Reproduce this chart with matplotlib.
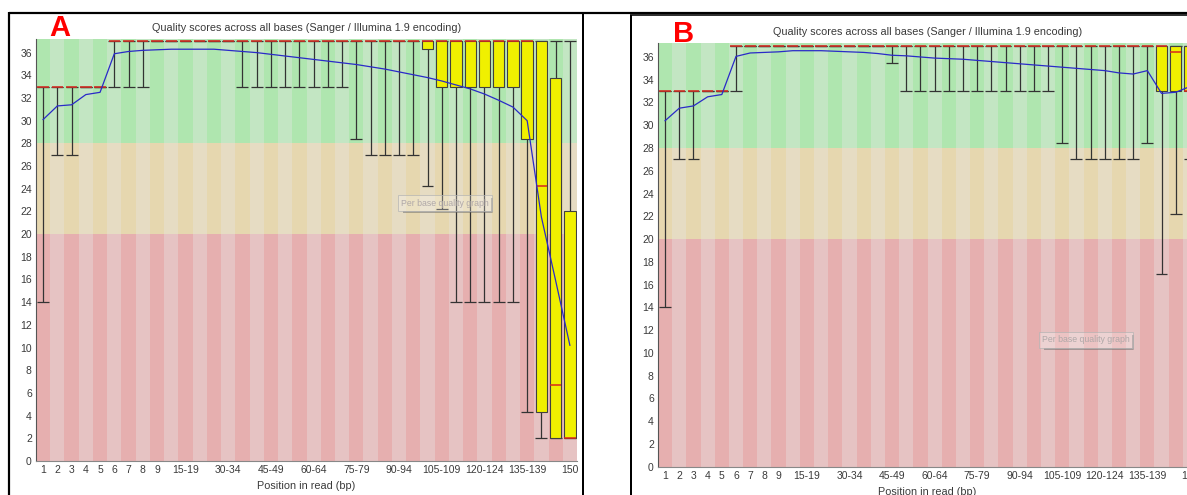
import matplotlib
matplotlib.use("Agg")
import matplotlib.pyplot as plt
import numpy as np
from matplotlib.lines import Line2D

plt.rcParams['font.family'] = ['Liberation Sans', 'DejaVu Sans']

W, H = 1187, 495

# position groups along the read
positions = [str(i) for i in range(1, 10)] + \
    ['%d-%d' % (s, s + 4) for s in range(10, 150, 5)] + ['150']
shown_labels = ['1', '2', '3', '4', '5', '6', '7', '8', '9', '15-19', '30-34',
                '45-49', '60-64', '75-79', '90-94', '105-109', '120-124',
                '135-139', '150']

# sample A
median_a = [33] * 5 + [37] * 30 + [24.2, 6.7, 2]
q1_a = [33] * 5 + [37] * 22 + [36.3] + [33] * 6 + [28.4, 4.3, 2, 2]
q3_a = [33] * 5 + [37] * 31 + [33.8, 22]
low_a = [14, 27, 27, 33, 33, 33, 33, 33] + [37] * 6 + [33] * 8 + [28.4] + \
    [27] * 4 + [24.2, 22.2] + [14] * 5 + [4.3, 2, 2, 2]
high_a = [33] * 5 + [37] * 33
mean_a = [30.1, 31.3, 31.4, 32.3, 32.5, 35.9, 36.1, 36.2, 36.25, 36.3, 36.3,
          36.3, 36.3, 36.2, 36.1, 36.0, 35.85, 35.7, 35.55, 35.4, 35.25, 35.1,
          34.95, 34.75, 34.55, 34.3, 34.05, 33.8, 33.5, 33.15, 32.8, 32.35,
          31.8, 31.2, 30.0, 21.5, 15.9, 10.2]

# sample B
median_b = [33] * 5 + [37] * 31 + [36.4, 33]
q1_b = [33] * 5 + [37] * 30 + [33, 33, 33]
q3_b = [33] * 5 + [37] * 33
low_b = [14, 27, 27, 33, 33, 33] + [37] * 10 + [35.5] + [33] * 11 + [28.4] + \
    [27] * 5 + [28.4, 16.9, 22.2, 27]
high_b = [33] * 5 + [37] * 33
mean_b = [30.4, 31.5, 31.7, 32.5, 32.7, 36.05, 36.35, 36.4, 36.45, 36.55,
          36.55, 36.55, 36.5, 36.45, 36.4, 36.3, 36.15, 36.1, 36.0, 35.9,
          35.85, 35.8, 35.7, 35.6, 35.5, 35.4, 35.3, 35.2, 35.1, 35.0, 34.9,
          34.8, 34.6, 34.5, 34.8, 32.8, 32.9, 33.4]

YMAX = 37.2
zones = [(0, 20, ['#e6afaf', '#e6c3c3']),
         (20, 28, ['#e6d7af', '#e6dcc3']),
         (28, YMAX, ['#afe6af', '#c3e6c3'])]
TXT = '#3a3a3a'


def px_rect(left, top, width, bottom):
    return [left / W, 1 - bottom / H, width / W, (bottom - top) / H]


def quality_panel(rect, med, q1, q3, low, high, mean):
    ax = fig.add_axes(rect)
    x = np.arange(len(positions))
    for lo, hi, cols in zones:
        ax.bar(x, hi - lo, bottom=lo, width=1.0,
               color=[cols[i % 2] for i in x], linewidth=0, zorder=0)
    med, q1, q3 = np.array(med), np.array(q1), np.array(q3)
    low, high = np.array(low), np.array(high)
    ax.vlines(x, low, q1, color='#333333', lw=0.9, zorder=2)
    ax.vlines(x, q3, high, color='#333333', lw=0.9, zorder=2)
    ax.hlines(low, x - 0.42, x + 0.42, color='#333333', lw=0.9, zorder=2)
    ax.hlines(high, x - 0.42, x + 0.42, color='#333333', lw=0.9, zorder=2)
    ax.bar(x, q3 - q1, bottom=q1, width=0.8, color='#f0f000',
           edgecolor='#404040', linewidth=0.8, zorder=3)
    ax.hlines(med, x - 0.4, x + 0.4, color='#d8281e', lw=1.1, zorder=4)
    ax.plot(x, mean, color='#2a2ac8', lw=0.9, zorder=5)

    ax.set_xlim(-0.5, len(positions) - 0.5)
    ax.set_ylim(0, YMAX)
    ax.set_yticks(range(0, 37, 2))
    ticks = [positions.index(s) for s in shown_labels]
    ax.set_xticks(ticks)
    ax.set_xticklabels(shown_labels)
    ax.tick_params(length=0, labelsize=7.5, colors=TXT, pad=3)
    for s in ('top', 'right'):
        ax.spines[s].set_visible(False)
    ax.spines['left'].set_color('#555555')
    ax.spines['bottom'].set_color('#888888')
    ax.set_xlabel('Position in read (bp)', fontsize=7.8, color=TXT, labelpad=4)
    ax.set_title('Quality scores across all bases (Sanger / Illumina 1.9 encoding)',
                 fontsize=7.8, color=TXT, pad=6)
    return ax


def fig_line(xs, ys, lw_px, color='black'):
    fig.add_artist(Line2D([v / W for v in xs], [1 - v / H for v in ys],
                          lw=lw_px * 0.72, color=color,
                          solid_capstyle='butt'))


def tooltip(cx, cy):
    fig.text(cx / W, 1 - cy / H, 'Per base quality graph', fontsize=6.3,
             color='#b0a8a8', ha='center', va='center', zorder=10,
             bbox=dict(boxstyle='square,pad=0.35', fc=(1, 1, 1, 0.25),
                       ec=(0.7, 0.7, 0.7, 0.7), lw=0.7))
    fig_line([cx - 42, cx + 47, cx + 47], [cy + 9, cy + 9, cy - 5], 1.8,
             color=(0.4, 0.4, 0.4, 0.55))


fig = plt.figure(figsize=(W / 100, H / 100), dpi=100)

quality_panel(px_rect(36, 39, 541, 461),
              median_a, q1_a, q3_a, low_a, high_a, mean_a)
quality_panel(px_rect(658, 43.3, 539, 466.8),
              median_b, q1_b, q3_b, low_b, high_b, mean_b)

# frames around the two panels
fig_line([9, W], [12.5, 12.5], 2.2)
fig_line([9.5, 9.5], [12, H], 2.2)
fig_line([582.5, 582.5], [12, H], 2.0)
fig_line([630.5, 630.5], [15, H], 2.0)
fig_line([630, W], [15.2, 15.2], 1.6)

fig.text(60 / W, 1 - 28 / H, 'A', color='#ff0000', fontsize=21,
         fontweight='bold', ha='center', va='center')
fig.text(684 / W, 1 - 34 / H, 'B', color='#ff0000', fontsize=21,
         fontweight='bold', ha='center', va='center')

tooltip(445, 203)
tooltip(1086, 340)

fig.savefig('out.png', dpi=100)
